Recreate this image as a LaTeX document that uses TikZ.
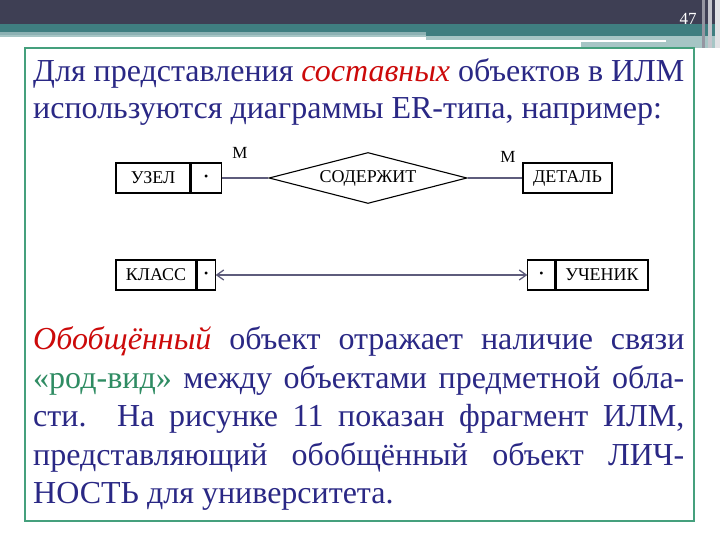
\documentclass[tikz,border=0pt]{standalone}
\usepackage{fontspec}
\setmainfont{Liberation Serif}
\usepackage{tikz}
\usetikzlibrary{arrows.meta}
\usetikzlibrary{positioning}
\usetikzlibrary{shapes.geometric}
\definecolor{mdark}{HTML}{3E3F54}
\definecolor{mteal}{HTML}{3F7E80}
\definecolor{mpale}{HTML}{A6C5C5}
\definecolor{mframe}{HTML}{45A07D}
\definecolor{mnavy}{HTML}{2A2885}
\definecolor{mred}{HTML}{CC0A0A}
\definecolor{mgreen}{HTML}{2F8C63}
\definecolor{mline}{HTML}{5E5C7C}
\tikzset{ent/.style = {draw, rectangle, line width = 1.1, minimum height = 30, inner sep = 2, font = \fontsize{18}{18}\selectfont}}
\tikzset{entdot/.style = {ent, font = \fontsize{12}{12}\selectfont}}
\tikzset{conn/.style = {draw = mline, line width = 1.3}}
\tikzset{para/.style = {mnavy, anchor = base west, inner sep = 0, align = left, scale = 1.2308, transform shape}}

\begin{document}
\begin{tikzpicture}[x = 1pt, y = 1pt, >={Straight Barb[length = 7pt, width = 10pt]}]
    \useasboundingbox (0, 0) rectangle (720, 540);
    \fill [white] (0, 0) rectangle (720, 540);
    \fill [mdark] (0, 516) rectangle (720, 540);
    \fill [mteal] (0, 508) rectangle (720, 516);
    \fill [mteal!60!white] (0, 505) rectangle (426, 508);
    \fill [mpale] (0, 503) rectangle (426, 505);
    \fill [mteal] (426, 504) rectangle (720, 508);
    \fill [mpale] (426, 492) rectangle (720, 504);
    \fill [white] (426, 498) rectangle (666, 500);
    \fill [white] (426, 492) rectangle (581, 498);
    \fill [mdark!55!white] (702, 492) rectangle (705, 540);
    \fill [mdark!30!white] (708, 492) rectangle (712, 540);
    \fill [mdark!15!white] (715, 492) rectangle (720, 540);
    \node [white, font = \fontsize{17}{17}\selectfont] (pagenum) at (688, 521) {47};
    \draw [mframe, line width = 2] (25, 19) rectangle (694, 492);
    \node [para, font = \fontsize{26}{30.06}\selectfont] (par1) at (33, 421) {\makebox[529pt][s]{Для представления \textcolor{mred}{\textit{составных}} объектов в ИЛМ}\\используются диаграммы ER-типа, например:};
    \node [ent, minimum width = 74] (uzel) at (153, 362) {УЗЕЛ};
    \node [entdot, minimum width = 30, right = 0 of uzel] (uzeldot) {\textbullet};
    \node [diamond, draw, line width = 1.1, aspect = 3.9, minimum width = 198, minimum height = 51, inner sep = 0, font = \fontsize{18}{18}\selectfont] (sod) at (368, 362) {СОДЕРЖИТ};
    \node [ent, minimum width = 89] (detal) at (567.5, 362) {ДЕТАЛЬ};
    \draw [conn] (uzeldot) -- (sod);
    \draw [conn] (sod) -- (detal);
    \node [font = \fontsize{17}{17}\selectfont] (m1) at (240, 387) {М};
    \node [font = \fontsize{17}{17}\selectfont] (m2) at (508, 383) {М};
    \node [ent, minimum width = 80] (klass) at (156, 265) {КЛАСС};
    \node [entdot, minimum width = 18, right = 0 of klass] (klassdot) {\textbullet};
    \node [ent, minimum width = 92] (uchenik) at (602, 265) {УЧЕНИК};
    \node [entdot, minimum width = 27, left = 0 of uchenik] (uchenikdot) {\textbullet};
    \draw [conn, <->] (klassdot) -- (uchenikdot);
    \node [para, font = \fontsize{26}{31.28}\selectfont] (par2) at (33, 36) {\makebox[529pt][s]{\textcolor{mred}{\textit{Обобщённый}} объект отражает наличие связи}\\\makebox[529pt][s]{\textcolor{mgreen}{«род-вид»} между объектами предметной обла-}\\\makebox[529pt][s]{сти. На рисунке 11 показан фрагмент ИЛМ,}\\\makebox[529pt][s]{представляющий обобщённый объект ЛИЧ-}\\НОСТЬ для университета.};
  \end{tikzpicture}
\end{document}
